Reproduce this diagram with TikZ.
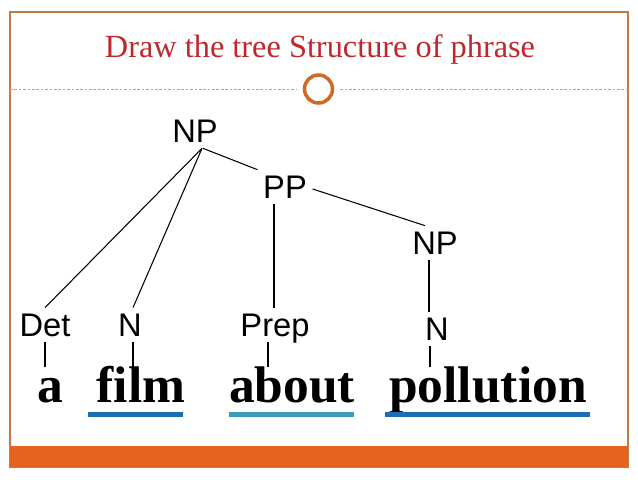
\documentclass[tikz,border=0pt]{standalone}
\usepackage{fontspec}
\setmainfont{Liberation Serif}
\setsansfont{Liberation Sans}
\usepackage{tikz}
\usepackage{xcolor}
\definecolor{titlered}{HTML}{C0272D}
\definecolor{barorange}{HTML}{E5631F}
\definecolor{framebrown}{HTML}{C47A45}
\definecolor{ringorange}{HTML}{CF6A24}
\definecolor{ruledash}{HTML}{B9A48E}
\definecolor{ulblue}{HTML}{1B6DB6}
\definecolor{ulteal}{HTML}{3A9DB5}

\begin{document}
\begin{tikzpicture}[
        cat/.style={font=\sffamily\fontsize{18.6}{21}\selectfont, text height=0.46cm, text depth=0cm, inner sep=0.11cm},
        word/.style={font=\fontsize{29.3}{34}\selectfont, anchor=base, inner sep=0cm, text height=0.7cm},
        ring/.style={circle, draw=ringorange, line width=0.07cm, minimum size=0.56cm, inner sep=0cm},
        rule/.style={ruledash, line width=0.4pt, dash pattern=on 1.5pt off 1pt},
        uline/.style={line width=0.1cm}
    ]
                    \useasboundingbox (0,0) rectangle (12.76,9.58);
                    \draw[framebrown,line width=0.6pt] (0.2,0.24) rectangle (12.56,9.34);
                    \fill[barorange] (0.2,0.24) rectangle (12.56,0.66);

                    \node[titlered,font=\fontsize{18.4}{22}\selectfont] (title) at (6.4,8.58){Draw the tree Structure of phrase};
                    \node[ring] (ring) at (6.37,7.8){};
                    \draw[rule] (0.2,7.8) -- ([xshift=-0.12cm]ring.west);
                    \draw[rule] ([xshift=0.12cm]ring.east) -- (12.56,7.8);

                    \node[cat] (NPa) at (3.90,6.96){NP};
                    \node[cat] (PP) at (5.70,5.84){PP};
                    \node[cat] (NPb) at (8.70,4.72){NP};
                    \node[cat] (Det) at (0.90,3.08){Det};
                    \node[cat] (Na) at (2.60,3.08){N};
                    \node[cat] (Prep) at (5.50,3.08){Prep};
                    \node[cat] (Nb) at (8.74,3.00){N};

                    \node[word] (a) at (1.00,1.54){\textbf{a}};
                    \node[word] (film) at (2.82,1.54){\textbf{film}};
                    \node[word] (about) at (5.84,1.54){\textbf{about}};
                    \node[word] (pollution) at (9.76,1.54){\textbf{pollution}};

                    \draw[black,semithick] ([xshift=0.14cm]NPa.south) -- (Det.north);
                    \draw[black,semithick] ([xshift=0.14cm]NPa.south) -- ([xshift=0.06cm]Na.north);
                    \draw[black,semithick] ([xshift=0.16cm]NPa.south) -- (PP.north west);
                    \draw[black,semithick] ([yshift=-0.04cm]PP.east) -- ([xshift=-0.2cm]NPb.north);
                    \draw[black,semithick] ([xshift=-0.02cm]Prep.north |- PP.south) -- ([xshift=-0.02cm]Prep.north);
                    \draw[black,semithick] ([xshift=-0.12cm]NPb.south) -- ([xshift=-0.12cm]NPb.south |- Nb.north);

                    \draw[black,semithick] (Det.south) -- (Det.south |- a.north);
                    \draw[black,semithick] ([xshift=0.06cm]Na.south) -- ([xshift=0.06cm]Na.south |- film.north);
                    \draw[black,semithick] ([xshift=-0.14cm]Prep.south) -- ([xshift=-0.14cm]Prep.south |- about.north);
                    \draw[black,semithick] ([xshift=-0.14cm]Nb.south) -- ([xshift=-0.14cm]Nb.south |- pollution.north);

                    \draw[ulblue,uline] (1.76,1.29) -- (3.66,1.29);
                    \draw[ulteal,uline] (4.58,1.29) -- (7.08,1.29);
                    \draw[ulblue,uline] (7.70,1.29) -- (11.80,1.29);
                \end{tikzpicture}
\end{document}
